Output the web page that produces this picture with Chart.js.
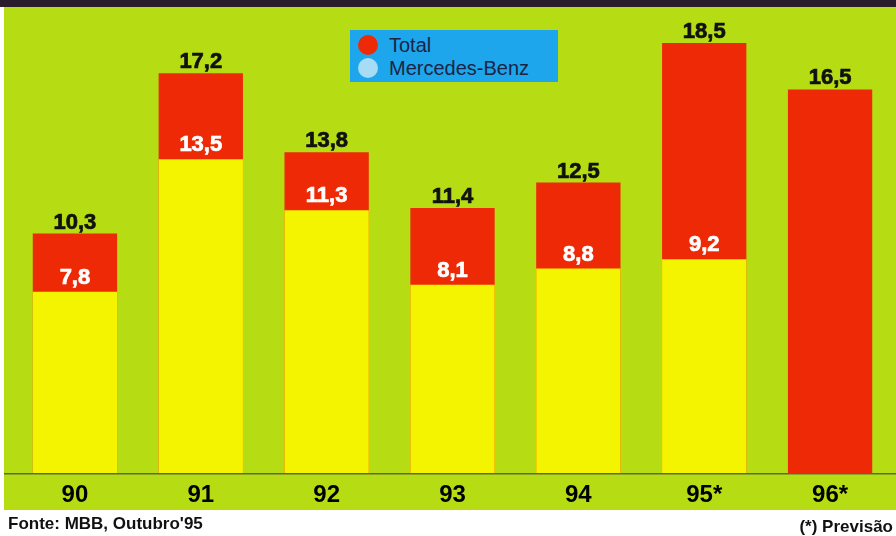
<!DOCTYPE html>
<html>
<head>
<meta charset="utf-8">
<script src="https://cdn.jsdelivr.net/npm/chart.js@4.4.0/dist/chart.umd.min.js"></script>
<style>
  html, body { margin: 0; padding: 0; background: #ffffff; }
  #wrap { position: relative; width: 896px; height: 536px; overflow: hidden; }
  #c { position: absolute; left: 0; top: 0; }
  #legend { position: absolute; left: 350px; top: 30px; width: 208px; height: 52px;
            background: #1ea6ec; font-family: "Liberation Sans", Arial, sans-serif; font-size: 20px;
            color: #1c2444; }
  .item { position: absolute; left: 8px; height: 24px; line-height: 24px; white-space: nowrap; }
  .dot { position: absolute; left: 0; top: 2px; width: 20px; height: 20px; border-radius: 50%; }
  .txt { position: absolute; left: 31px; top: 0; }
  .note { position: absolute; font-family: "Liberation Sans", Arial, sans-serif; font-weight: bold;
          font-size: 17px; line-height: 20px; color: #111; white-space: nowrap; }
</style>
</head>
<body>
<div id="wrap">
  <canvas id="c" width="896" height="536"></canvas>
  <div id="legend"></div>
  <div class="note" style="left:8px; top:514px;">Fonte: MBB, Outubro'95</div>
  <div class="note" style="right:3px; top:517px;">(*) Previsão</div>
</div>
<script>
const categories = ["90", "91", "92", "93", "94", "95*", "96*"];
const totalValues = [10.3, 17.2, 13.8, 11.4, 12.5, 18.5, 16.5];
const mercedesValues = [7.8, 13.5, 11.3, 8.1, 8.8, 9.2, null];
const seriesNames = ["Total", "Mercedes-Benz"];

const RED = "#ee2a06";
const YELLOW = "#f4f400";
const GREEN = "#b6dc14";

function fmt(v) { return v.toFixed(1).replace(".", ","); }

// HTML legend built from series names
const legendColors = [RED, "#a6dcf6"];
const legendEl = document.getElementById("legend");
seriesNames.forEach((name, i) => {
  const it = document.createElement("div");
  it.className = "item";
  it.style.top = (3 + i * 23) + "px";
  it.innerHTML = '<span class="dot" style="background:' + legendColors[i] + '"></span><span class="txt"></span>';
  it.querySelector(".txt").textContent = name;
  legendEl.appendChild(it);
});

const bgPlugin = {
  id: "bg",
  beforeDraw(chart) {
    const ctx = chart.ctx;
    ctx.save();
    ctx.fillStyle = "#ffffff";
    ctx.fillRect(0, 0, chart.width, chart.height);
    ctx.fillStyle = GREEN;
    ctx.fillRect(4, 7, chart.width - 4, 503);
    ctx.fillStyle = "#2b1c2b";
    ctx.fillRect(0, 0, chart.width, 7);
    ctx.restore();
  },
  afterDatasetsDraw(chart) {
    const ctx = chart.ctx;
    const yb = chart.scales.y.getPixelForValue(0);
    ctx.save();
    ctx.strokeStyle = "#5a6a3a";
    ctx.lineWidth = 1.5;
    ctx.beginPath();
    ctx.moveTo(4, yb + 0.5);
    ctx.lineTo(chart.width, yb + 0.5);
    ctx.stroke();

    ctx.font = "bold 22px 'Liberation Sans', Arial, sans-serif";
    ctx.textAlign = "center";
    ctx.textBaseline = "middle";
    ctx.lineWidth = 0.7;
    const mt = chart.getDatasetMeta(1);
    mt.data.forEach((el, i) => {
      const v = totalValues[i];
      if (v == null) return;
      ctx.fillStyle = "#111111";
      ctx.strokeStyle = "#111111";
      ctx.fillText(fmt(v), el.x, el.y - 11);
      ctx.strokeText(fmt(v), el.x, el.y - 11);
    });
    const mm = chart.getDatasetMeta(0);
    mm.data.forEach((el, i) => {
      const v = mercedesValues[i];
      if (v == null) return;
      ctx.fillStyle = "#ffffff";
      ctx.strokeStyle = "#ffffff";
      ctx.fillText(fmt(v), el.x, el.y - 14);
      ctx.strokeText(fmt(v), el.x, el.y - 14);
    });
    ctx.restore();
  }
};

new Chart(document.getElementById("c"), {
  type: "bar",
  data: {
    labels: categories,
    datasets: [
      { label: seriesNames[1], data: mercedesValues, backgroundColor: YELLOW, borderWidth: 0 },
      { label: seriesNames[0], data: totalValues, backgroundColor: RED, borderWidth: 0 }
    ]
  },
  options: {
    responsive: false,
    animation: false,
    devicePixelRatio: 1,
    categoryPercentage: 1,
    barPercentage: 0.67,
    layout: { padding: { left: 12, right: 3, top: 8, bottom: 18 } },
    plugins: { legend: { display: false }, tooltip: { enabled: false } },
    scales: {
      x: {
        stacked: true,
        grid: { display: false, drawTicks: false },
        border: { display: false },
        ticks: { color: "#000000", padding: 8,
                 font: { family: "'Liberation Sans', Arial, sans-serif", size: 24, weight: "bold" } }
      },
      y: {
        stacked: false,
        display: false,
        min: 0,
        max: 20
      }
    }
  },
  plugins: [bgPlugin]
});
</script>
</body>
</html>
